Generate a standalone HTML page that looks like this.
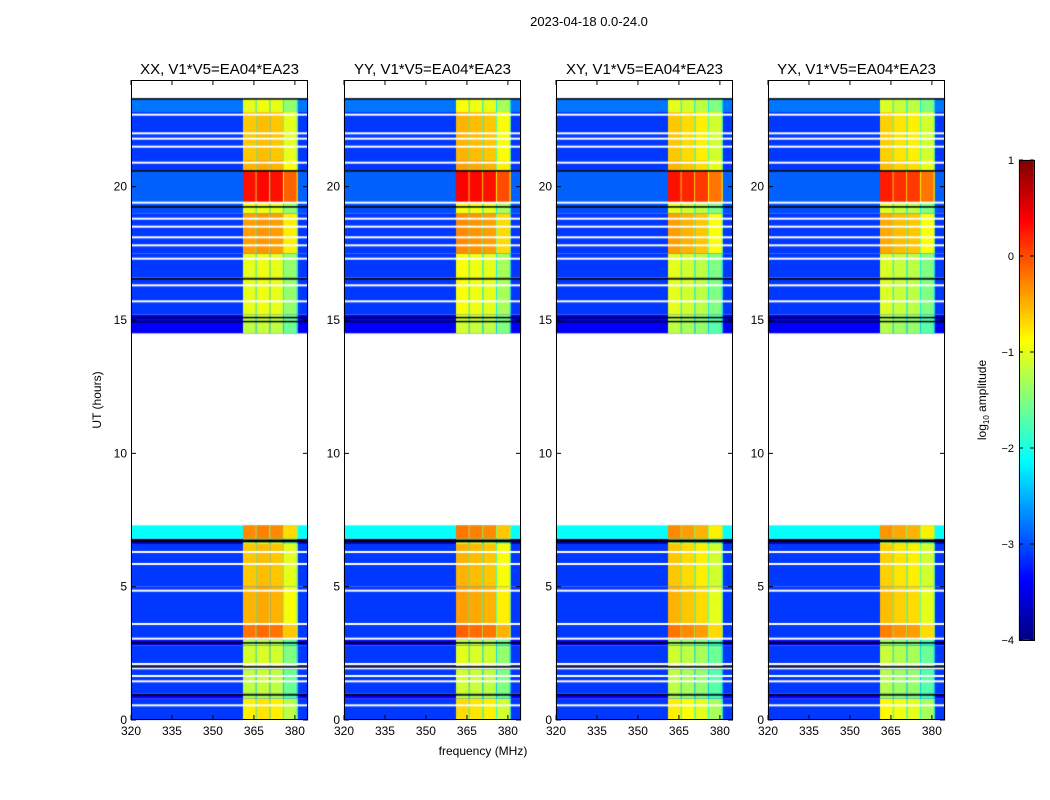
<!DOCTYPE html>
<html><head><meta charset="utf-8"><style>
body{margin:0;background:#fff;width:1050px;height:800px;overflow:hidden;position:relative;font-family:"Liberation Sans",sans-serif}
canvas,svg{position:absolute;left:0;top:0}
</style></head><body>
<canvas id="cv" width="1050" height="800"></canvas>
<svg id="sv" width="1050" height="800"></svg>
<script>
// ---- data ----
const panelTitles = ["XX, V1*V5=EA04*EA23","YY, V1*V5=EA04*EA23","XY, V1*V5=EA04*EA23","YX, V1*V5=EA04*EA23"];
const xTicks = [320,335,350,365,380];
const yTicks = [0,5,10,15,20];
const cbTicks = [1,0,-1,-2,-3,-4];
// time segments: start hour, end hour
const segStart = [0.0,0.8,1.0,2.0,2.8,3.0,3.6,5.0,6.6,6.8,14.5,15.2,16.6,17.5,19.0,19.4,20.6,21.0,22.8];
const segEnd   = [0.8,1.0,1.9,2.8,3.0,3.6,5.0,6.6,6.8,7.3,15.2,16.6,17.5,19.0,19.4,20.6,21.0,22.8,23.3];
const segBg    = [-3.1,-3.4,-3.1,-3.1,-3.4,-3.1,-3.1,-3.1,-3.4,-2.1,-3.4,-3.1,-3.1,-3.1,-3.0,-2.9,-3.1,-3.1,-2.8];
const segBand  = [-0.8,-1.3,-1.2,-1.1,-1.3,-0.2,-0.5,-0.6,-1.2,-0.3,-1.2,-1.0,-1.0,-0.4,-1.0,0.3,-0.5,-0.6,-1.0];
// spectral windows (MHz)
const winStart = [361,366,371,376];
const winEnd   = [366,371,376,381];
const panelWinOffset = [[0,0.05,0,-0.4],[0.1,0.05,0,-0.3],[0,-0.1,-0.2,-0.5],[-0.05,-0.15,-0.2,-0.5]];
const panelBgOffset = [0,0,0,0];
const flagHours  = [0.55,1.45,1.65,2.1,3.05,3.6,4.85,5.85,6.3,15.7,16.3,17.3,17.8,18.1,18.5,18.8,19.4,20.9,21.5,21.8,22.0,22.7];
const blackHours = [0.95,2.0,2.9,6.7,6.75,14.95,15.1,16.55,19.25,20.6,23.3];
// ---- layout ----
const pxL=[131,344,556,768], pw=177, pT=80, pB=720;
const fMin=320,fMax=384.8,tMin=0,tMax=24;
const xs=(i,f)=>pxL[i]+(f-fMin)/(fMax-fMin)*pw;
const ys=t=>pB-(t-tMin)/(tMax-tMin)*(pB-pT);
function jet(v){ // v in [-4,1]
  let x=Math.max(0,Math.min(1,(v+4)/5));
  const c=t=>Math.round(255*Math.max(0,Math.min(1,1.5-Math.abs(4*x-t))));
  return `rgb(${c(3)},${c(2)},${c(1)})`;
}
const cv=document.getElementById('cv'),ctx=cv.getContext('2d');
for(let p=0;p<4;p++){
  for(let s=0;s<segStart.length;s++){
    const y0=ys(segEnd[s]),y1=ys(segStart[s]);
    ctx.fillStyle=jet(segBg[s]+panelBgOffset[p]);
    ctx.fillRect(xs(p,fMin),y0,pw,y1-y0);
    for(let w=0;w<winStart.length;w++){
      ctx.fillStyle=jet(segBand[s]+panelWinOffset[p][w]);
      const a=xs(p,winStart[w]),b=xs(p,winEnd[w]);
      ctx.fillRect(a,y0,b-a,y1-y0);
      ctx.fillStyle=jet(segBand[s]-1.2);
      ctx.fillRect(b-1,y0,1,y1-y0);
    }
  }
  ctx.fillStyle='#fff';
  flagHours.forEach(h=>ctx.fillRect(pxL[p],ys(h)-1,pw,2));
  ctx.fillStyle='#000';
  blackHours.forEach(h=>ctx.fillRect(pxL[p],ys(h)-0.5,pw,1.5));
}
// colorbar
for(let y=160;y<640;y++){ctx.fillStyle=jet(1-(y-160)/480*5);ctx.fillRect(1019,y,15,1);}
// ---- overlay ----
const sv=document.getElementById('sv');const NS='http://www.w3.org/2000/svg';
function el(tag,attrs,txt){const e=document.createElementNS(NS,tag);for(const k in attrs)e.setAttribute(k,attrs[k]);if(txt!==undefined)e.textContent=txt;sv.appendChild(e);return e;}
let t=el('text',{x:589,y:26,'font-size':13,'text-anchor':'middle'},'2023-04-18 0.0-24.0');


for(let p=0;p<4;p++){
  const r=el('rect',{x:pxL[p]+0.5,y:pT+0.5,width:pw-1,height:pB-pT-1,fill:'none',stroke:'#000'});
  
  
  const tt=el('text',{x:pxL[p]+pw/2,y:74,'font-size':15,'text-anchor':'middle'},panelTitles[p]);
  
  
  xTicks.forEach(f=>{const x=xs(p,f);
    el('line',{x1:x,x2:x,y1:pB,y2:pB-5,stroke:'#000'});el('line',{x1:x,x2:x,y1:pT,y2:pT+5,stroke:'#000'});
    const l=el('text',{x:x,y:pB+15,'font-size':12,'text-anchor':'middle'},f);
    
    });
  yTicks.forEach(h=>{const y=ys(h);
    el('line',{x1:pxL[p],x2:pxL[p]+5,y1:y,y2:y,stroke:'#000'});el('line',{x1:pxL[p]+pw,x2:pxL[p]+pw-5,y1:y,y2:y,stroke:'#000'});
    const l=el('text',{x:pxL[p]-4,y:y+4,'font-size':12,'text-anchor':'end'},h);
    
    });
}
t=el('text',{x:0,y:0,'font-size':12,'text-anchor':'middle',transform:'translate(101,400) rotate(-90)'},'UT (hours)');


t=el('text',{x:483,y:755,'font-size':12,'text-anchor':'middle'},'frequency (MHz)');


const cb=el('rect',{x:1019.5,y:160.5,width:15,height:480,fill:'none',stroke:'#000'});


cbTicks.forEach(v=>{const y=160+(1-v)/5*480;
  el('line',{x1:1019,x2:1023,y1:y,y2:y,stroke:'#000'});el('line',{x1:1030,x2:1034,y1:y,y2:y,stroke:'#000'});
  const l=el('text',{x:1014,y:y+4,'font-size':11,'text-anchor':'end'},v<0?'\u2212'+(-v):v);
  
  });
t=el('text',{x:0,y:0,'font-size':12,'text-anchor':'middle',transform:'translate(986,400) rotate(-90)'});
t.innerHTML='log<tspan font-size="8" dy="3">10</tspan><tspan dy="-3"> amplitude</tspan>';


</script>
</body></html>
